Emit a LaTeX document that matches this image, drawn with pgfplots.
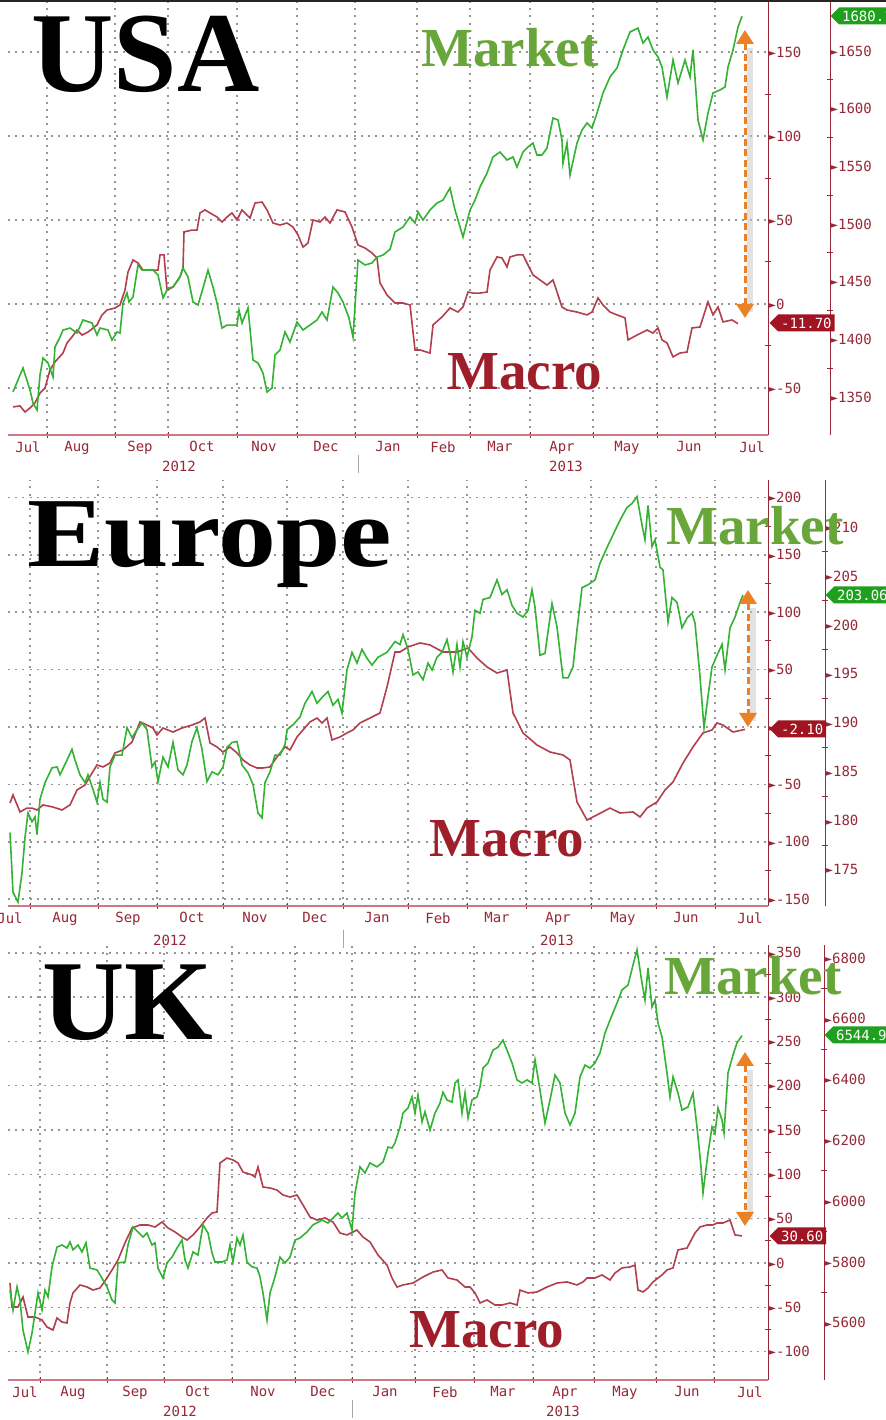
\documentclass[border=0pt]{standalone}
\usepackage{fontspec}
\setmainfont{Liberation Serif}
\newfontfamily\monof{DejaVu Sans Mono}
\newfontfamily\symf{DejaVu Sans}
\usepackage{pgfplots}
\pgfplotsset{compat=1.18}
\usetikzlibrary{shapes.symbols,arrows.meta}

\definecolor{macroc}{RGB}{178,62,78}
\definecolor{marketc}{RGB}{52,178,52}
\definecolor{markettxt}{RGB}{104,166,58}
\definecolor{macrotxt}{RGB}{158,30,42}
\definecolor{axred}{RGB}{150,40,55}
\definecolor{xaxc}{RGB}{205,120,130}
\definecolor{gridc}{RGB}{150,150,150}
\definecolor{tagred}{RGB}{160,20,35}
\definecolor{taggreen}{RGB}{30,160,30}
\definecolor{arrc}{RGB}{236,128,36}

\newcommand\tickf{\monof\fontsize{7}{8}\selectfont}
\newcommand\tri{{\symf\fontsize{5}{5}\selectfont\raisebox{0.4pt}{►}}}

\pgfplotsset{
 bbase/.style={scale only axis, anchor=south west,
   major tick length=0pt, minor tick length=3pt, tick align=center,
   tick style={draw=axred, line width=0.5pt},
   ticklabel style={font=\tickf, text=axred},
   yticklabel={\tri\pgfmathprintnumber{\tick}},
   yticklabel style={anchor=west, inner sep=0pt},
   minor y tick num=1,
   /pgf/number format/1000 sep={},
   /pgf/number format/assume math mode=true,
 },
 bmacro/.style={bbase, axis x line*=bottom, axis y line*=right,
   x axis line style={-, draw=xaxc, line width=0.7pt},
   y axis line style={-, draw=axred, line width=0.5pt},
   xmajorgrids=false, ymajorgrids=true, xminorgrids=true, yminorgrids=false,
   grid style={draw=gridc, dash pattern=on 1pt off 2.6pt, line width=0.8pt},
   major grid style={draw=gridc, dash pattern=on 1pt off 2.6pt, line width=0.8pt},
   minor grid style={draw=gridc, dash pattern=on 1pt off 2.6pt, line width=0.8pt},
   xticklabel style={anchor=north, inner sep=0pt, yshift=-3pt},
   xticklabels={Jul,Aug,Sep,Oct,Nov,Dec,Jan,Feb,Mar,Apr,May,Jun,Jul},
 },
 bmarket/.style={bbase, axis x line=none, axis y line*=right,
   y axis line style={-, draw=axred, line width=0.5pt}},
 macroline/.style={macroc, line width=0.8pt, no marks},
 marketline/.style={marketc, line width=0.8pt, no marks},
}

\begin{document}
\begin{tikzpicture}
\useasboundingbox (0,0) rectangle (443pt,710pt);
\fill[white] (0,0) rectangle (443pt,710pt);

% ================= USA =================
\begin{axis}[bmacro, at={(4pt,492.5pt)}, width=380pt, height=216.5pt,
  xmin=8, xmax=768, ymin=-78, ymax=179.8,
  xtick={28,77,140,202,264,326,388,443,500,562,627,689,752},
  minor xtick={47,115,168,237,297,355,417,470,530,593,657,715},
  ytick={-50,0,50,100,150}]
\addplot[macroline] coordinates {(13,-61.3)(20,-60.7)(25,-64.3)(30,-61.9)(35,-58.9)(40,-53.0)(45,-50.0)(50,-39.3)(55,-34.5)(63,-29.2)(67,-23.2)(72,-19.6)(77,-15.5)(82,-18.5)(88,-16.7)(97,-12.5)(102,-6.5)(107,-3.6)(115,-2.4)(120,-0.6)(125,8.3)(128,19.0)(133,26.2)(138,24.4)(143,20.2)(152,20.2)(158,20.2)(160,29.2)(164,29.2)(167,8.3)(173,10.1)(180,16.1)(183,21.4)(184,42.9)(192,44.0)(197,44.0)(200,54.2)(205,56.0)(210,54.2)(217,51.8)(222,48.8)(227,51.8)(232,54.2)(237,50.0)(242,56.0)(247,53.0)(250,51.2)(255,60.1)(262,60.7)(267,56.0)(273,48.2)(280,47.0)(287,48.2)(293,45.8)(298,41.1)(303,33.9)(308,36.3)(313,50.0)(320,48.8)(325,51.8)(330,48.2)(337,56.0)(345,54.8)(352,45.8)(358,35.1)(365,33.3)(372,30.4)(377,27.4)(380,12.5)(387,5.4)(395,0.6)(403,0.6)(410,-0.6)(415,-27.4)(420,-27.4)(430,-29.2)(433,-12.5)(442,-7.7)(450,-2.4)(458,-4.8)(463,-1.8)(468,7.1)(473,6.5)(480,6.5)(487,7.1)(490,20.2)(497,28.0)(502,27.4)(507,22.0)(510,28.0)(517,29.2)(523,29.2)(528,23.2)(533,17.3)(540,14.3)(547,11.3)(553,14.3)(562,-1.8)(567,-3.6)(577,-4.8)(587,-6.5)(592,-4.8)(598,3.6)(603,-0.6)(610,-4.8)(617,-6.5)(625,-8.3)(628,-21.4)(637,-18.5)(647,-15.5)(653,-17.3)(658,-14.3)(662,-21.4)(667,-23.2)(673,-31.5)(680,-29.2)(687,-28.6)(692,-14.3)(700,-13.7)(708,1.2)(713,-6.5)(718,-1.8)(723,-10.7)(732,-9.5)(738,-11.7)};
\end{axis}
\begin{axis}[bmarket, at={(4pt,492.5pt)}, width=411pt, height=216.5pt,
  xmin=8, xmax=830, ymin=1317.1, ymax=1692.5,
  ytick={1350,1400,1450,1500,1550,1600,1650}]
\addplot[marketline] coordinates {(13,1354.4)(23,1375.2)(30,1356.1)(33,1344.8)(37,1338.7)(40,1369.1)(43,1383.8)(48,1379.5)(53,1367.4)(55,1393.4)(60,1402.0)(63,1408.1)(70,1409.8)(77,1405.5)(83,1416.8)(92,1414.2)(97,1403.8)(100,1409.8)(108,1408.1)(112,1399.4)(117,1406.4)(120,1405.5)(123,1431.5)(127,1440.2)(129,1432.4)(133,1436.7)(138,1464.5)(142,1460.1)(147,1460.1)(153,1460.1)(158,1455.8)(163,1435.9)(168,1444.5)(173,1445.4)(180,1454.1)(183,1461.9)(188,1454.1)(193,1432.4)(198,1429.8)(203,1444.5)(208,1460.1)(213,1445.4)(217,1431.5)(222,1409.8)(227,1412.4)(237,1412.4)(239,1425.4)(242,1414.2)(248,1427.2)(253,1382.1)(258,1379.5)(263,1370.8)(267,1354.4)(272,1357.8)(275,1386.4)(280,1390.8)(285,1406.4)(290,1397.7)(297,1415.0)(303,1408.1)(310,1412.4)(317,1416.8)(322,1423.7)(327,1416.8)(333,1445.4)(338,1440.2)(343,1432.4)(349,1418.5)(353,1402.0)(358,1468.8)(365,1464.5)(372,1466.2)(377,1471.4)(383,1473.1)(390,1478)(395,1493.1)(403,1497.4)(410,1506.1)(415,1500.9)(418,1510.4)(423,1503.5)(430,1512.1)(437,1518.2)(443,1520.8)(450,1531.2)(455,1512.1)(458,1503.5)(463,1488.7)(470,1512.1)(475,1520.8)(480,1532.1)(487,1544.2)(493,1558.1)(500,1562.4)(507,1555.5)(513,1558.1)(517,1549.4)(523,1562.4)(528,1566.8)(533,1570.2)(537,1559.8)(542,1559.8)(547,1565.9)(553,1591.9)(558,1590.2)(562,1572.8)(563,1552.9)(567,1570.2)(570,1542.5)(577,1570.2)(582,1581.5)(587,1587.6)(592,1583.2)(597,1596.2)(603,1613.6)(610,1627.5)(617,1635.3)(623,1650.9)(630,1666.5)(638,1669.9)(643,1656.9)(648,1662.1)(653,1650.9)(658,1644.8)(662,1636.1)(667,1610.1)(673,1642.2)(678,1622.3)(685,1642.2)(690,1627.5)(693,1650.9)(698,1590.2)(703,1572.8)(708,1596.2)(713,1613.6)(720,1616.2)(725,1618.8)(728,1636.1)(733,1650.9)(738,1670.8)(742,1680.1)};
\end{axis}

% ================= Europe =================
\begin{axis}[bmacro, at={(4pt,257pt)}, width=380pt, height=213pt,
  xmin=8, xmax=768, ymin=-155.9, ymax=215.1,
  xtick={10,65,128,192,255,315,377,438,497,558,623,686,750},
  minor xtick={30,98,157,223,287,343,408,467,526,591,656,715},
  ytick={-150,-100,-50,0,50,100,150,200}]
\addplot[macroline] coordinates {(10,-66.2)(13,-59.2)(20,-74.0)(27,-70.6)(32,-70.6)(37,-72.3)(43,-67.9)(53,-69.7)(62,-72.3)(70,-67.9)(77,-54.9)(85,-50.5)(92,-40.1)(97,-33.1)(103,-34.8)(110,-31.4)(115,-22.6)(123,-20.0)(132,-13.1)(140,4.4)(147,1.7)(153,-0.9)(157,-7.0)(163,-0.9)(173,-4.4)(182,-0.9)(192,1.7)(200,4.4)(205,7.8)(210,-13.9)(217,-17.4)(223,-21.8)(230,-17.4)(237,-22.6)(243,-28.7)(250,-33.1)(257,-35.7)(263,-35.7)(270,-34.8)(277,-26.1)(285,-17.4)(290,-20.0)(297,-8.7)(303,-2.6)(310,4.4)(317,7.8)(322,3.5)(327,7.8)(332,-11.3)(340,-8.7)(347,-5.2)(353,-2.6)(360,3.5)(370,7.8)(380,12.2)(387,34.8)(395,65.3)(400,65.3)(408,69.7)(420,73.2)(430,71.4)(443,65.3)(457,65.3)(468,68.8)(477,60.1)(487,52.3)(497,47.0)(507,49.6)(513,12.2)(523,-5.2)(537,-15.7)(550,-21.8)(563,-24.4)(570,-28.7)(577,-65.3)(587,-81.0)(597,-76.6)(610,-70.6)(620,-74.9)(633,-74.0)(640,-78.4)(647,-70.6)(657,-65.3)(665,-54.9)(673,-47.9)(683,-31.4)(693,-17.4)(703,-5.2)(712,-2.6)(717,3.5)(723,1.7)(733,-4.4)(745,-2.1)};
\end{axis}
\begin{axis}[bmarket, at={(4pt,257pt)}, width=408.5pt, height=213pt,
  xmin=8, xmax=825, ymin=171.3, ymax=214.8,
  ytick={175,180,185,190,195,200,205,210}]
\addplot[marketline] coordinates {(10,178.8)(13,172.7)(18,171.7)(22,174.7)(25,178.3)(28,180.8)(32,179.9)(35,180.4)(37,178.6)(40,182.2)(45,183.9)(52,185.4)(57,185.5)(60,184.7)(67,186.2)(72,187.3)(75,186.2)(80,184.7)(85,183.9)(88,184.7)(93,183.2)(97,181.9)(100,183.9)(103,182.2)(107,181.9)(110,185.5)(115,186.7)(122,186.7)(127,189.5)(132,188.5)(137,189.3)(142,190.0)(147,189.3)(152,185.5)(155,186.0)(158,184.0)(163,186.5)(168,185.5)(173,188.0)(178,185.2)(183,184.7)(187,185.7)(192,188.1)(197,189.5)(202,187.3)(207,184.0)(212,185.0)(218,184.7)(223,185.5)(227,187.5)(232,188.0)(237,188.1)(242,185.7)(248,184.9)(253,183.7)(258,180.8)(262,180.3)(265,183.9)(270,185.0)(275,186.7)(280,186.7)(285,187.8)(287,189.3)(293,189.8)(300,190.6)(305,192.0)(312,193.2)(317,192.0)(323,192.7)(328,193.2)(333,191.8)(338,192.4)(342,191.0)(347,195.4)(352,197.2)(357,196.1)(362,197.5)(367,196.6)(372,195.9)(378,196.7)(387,197.2)(395,198.3)(400,198.0)(403,199.0)(408,197.5)(413,194.9)(418,195.2)(423,194.4)(428,196.1)(432,195.4)(437,196.7)(442,197.2)(447,198.5)(450,197.1)(453,195.2)(457,198.0)(460,195.7)(463,198.3)(467,196.7)(472,198.8)(475,201.5)(480,201.2)(483,202.6)(490,202.8)(497,204.6)(502,203.1)(507,203.6)(512,202.0)(517,201.2)(523,200.8)(528,201.5)(532,203.6)(535,201.8)(540,196.9)(545,197.1)(552,202.2)(557,199.8)(563,194.6)(568,194.6)(573,195.7)(577,199.5)(582,203.8)(588,204.1)(595,204.6)(600,206.3)(607,207.9)(613,209.2)(620,210.7)(627,212.0)(632,212.4)(637,213.1)(642,210.2)(645,208.7)(648,212.2)(652,208.0)(655,208.7)(660,205.9)(663,205.6)(668,200.3)(672,202.8)(677,202.3)(682,199.7)(687,200.7)(692,201.2)(695,200.2)(700,194.7)(704,189.5)(708,192.7)(712,195.7)(717,196.9)(722,198.0)(725,195.4)(730,199.7)(735,200.8)(740,202.3)(743,203.06)};
\end{axis}

% ================= UK =================
\begin{axis}[bmacro, at={(4pt,20pt)}, width=380pt, height=217.5pt,
  xmin=8, xmax=768, ymin=-132.0, ymax=358.7,
  xtick={25,73,135,198,263,323,385,445,503,565,625,687,750},
  minor xtick={40,107,164,232,295,352,415,474,533,594,656,714},
  ytick={-100,-50,0,50,100,150,200,250,300,350}]
\addplot[macroline] coordinates {(10,-22.6)(12,-49.6)(18,-49.6)(23,-38.4)(28,-60.9)(35,-60.9)(42,-64.3)(47,-72.2)(53,-75.6)(57,-62.0)(62,-66.6)(67,-67.7)(70,-45.1)(73,-33.8)(80,-24.8)(87,-27.1)(93,-30.5)(100,-28.2)(107,-16.9)(112,-7.9)(118,3.4)(125,22.6)(132,39.5)(140,42.9)(148,42.9)(155,40.6)(162,46.2)(168,39.5)(175,35.0)(182,29.3)(187,25.9)(193,31.6)(200,40.6)(207,50.8)(212,56.4)(217,57.5)(220,112.8)(227,118.4)(233,116.2)(238,112.8)(243,102.6)(252,99.3)(255,97.0)(258,108.3)(263,85.7)(270,84.6)(277,82.3)(283,76.7)(290,74.4)(297,76.7)(303,65.4)(310,51.9)(317,48.5)(325,50.8)(333,46.2)(340,33.8)(347,31.6)(357,37.2)(363,29.3)(370,23.7)(378,9.0)(387,-2.3)(392,-16.9)(397,-27.1)(403,-24.8)(413,-22.6)(423,-15.8)(433,-10.2)(442,-7.9)(448,-16.9)(457,-19.2)(465,-27.1)(470,-27.1)(475,-33.8)(480,-45.1)(487,-41.7)(495,-47.4)(502,-47.4)(510,-45.1)(517,-47.4)(520,-30.5)(528,-33.8)(537,-32.7)(547,-27.1)(557,-22.6)(567,-21.4)(577,-24.8)(583,-21.4)(587,-16.9)(595,-16.9)(602,-13.5)(610,-19.2)(615,-11.3)(622,-5.6)(630,-4.5)(635,-2.3)(638,-30.5)(643,-32.7)(648,-28.2)(653,-21.4)(662,-13.5)(667,-7.9)(673,-5.6)(678,14.7)(687,16.9)(695,33.8)(700,40.6)(707,42.9)(713,42.9)(717,45.1)(723,45.1)(730,48.5)(735,31.6)(742,30.6)};
\end{axis}
\begin{axis}[bmarket, at={(4pt,20pt)}, width=408pt, height=217.5pt,
  xmin=8, xmax=824, ymin=5411.8, ymax=6842.9,
  ytick={5600,5800,6000,6200,6400,6600,6800}, minor y tick num=1]
\addplot[marketline] coordinates {(10,5708)(13,5642)(17,5718)(20,5675)(23,5576)(28,5504)(32,5566)(35,5632)(38,5698)(42,5642)(45,5708)(48,5685)(52,5784)(57,5849)(62,5856)(67,5846)(70,5866)(73,5840)(78,5856)(82,5833)(86,5863)(90,5780)(97,5774)(103,5741)(107,5718)(112,5675)(115,5665)(118,5797)(125,5800)(128,5856)(133,5915)(138,5899)(143,5882)(147,5895)(152,5856)(155,5863)(158,5780)(163,5747)(167,5797)(172,5816)(177,5846)(182,5872)(185,5807)(188,5780)(193,5833)(198,5823)(203,5922)(208,5895)(212,5830)(215,5800)(222,5800)(227,5807)(230,5856)(233,5800)(237,5879)(240,5856)(243,5889)(247,5800)(252,5784)(257,5780)(260,5751)(263,5698)(267,5609)(270,5698)(275,5751)(280,5816)(285,5797)(290,5816)(295,5872)(300,5879)(307,5899)(313,5922)(322,5938)(328,5928)(333,5945)(338,5961)(342,5945)(347,5961)(352,5905)(355,6027)(360,6113)(365,6093)(370,6126)(377,6113)(383,6129)(388,6178)(392,6175)(395,6192)(400,6244)(403,6290)(408,6307)(412,6343)(415,6290)(418,6349)(422,6261)(425,6294)(430,6234)(435,6290)(440,6323)(443,6359)(447,6333)(452,6326)(455,6389)(458,6399)(462,6290)(465,6356)(468,6274)(472,6333)(477,6343)(480,6376)(483,6438)(488,6455)(493,6497)(498,6507)(503,6530)(507,6497)(512,6455)(517,6399)(522,6389)(527,6399)(532,6389)(535,6465)(540,6366)(545,6257)(550,6333)(555,6415)(560,6389)(565,6290)(570,6251)(575,6290)(580,6409)(585,6448)(590,6438)(595,6455)(600,6488)(605,6553)(610,6596)(617,6652)(622,6695)(628,6711)(633,6777)(637,6827)(642,6718)(645,6662)(648,6767)(652,6639)(655,6662)(658,6586)(662,6540)(667,6422)(670,6343)(673,6409)(678,6356)(682,6300)(688,6310)(693,6356)(697,6244)(701,6113)(703,6027)(708,6159)(712,6244)(715,6224)(718,6307)(722,6267)(724,6224)(728,6422)(733,6481)(737,6521)(742,6544.9)};
\end{axis}

% ================= annotations (pixel coordinates) =================
\begin{scope}[x=0.5pt,y=-0.5pt,shift={(0pt,710pt)}]
 \draw[black!85, line width=1pt] (0,1) -- (886,1);
 \begin{scope}[every node/.style={font=\tickf, text=axred, inner sep=0pt}]
  \node at (179,466) {2012}; \node at (566,466) {2013};
  \node at (170,940) {2012}; \node at (557,940) {2013};
  \node at (180,1411) {2012}; \node at (563,1411) {2013};
 \end{scope}
 \draw[gray!70, line width=0.5pt] (358,455) -- (358,473);
 \draw[gray!70, line width=0.5pt] (343,930) -- (343,948);
 \draw[gray!70, line width=0.5pt] (352,1400) -- (352,1418);
 \foreach \xa/\ya/\yb in {745/30/318, 748/590/727, 745/1052/1226}{
   \draw[gray!45, opacity=0.5, line width=3pt] (\xa+5,\ya+18) -- (\xa+5,\yb-6);
   \draw[arrc, line width=1.5pt, dash pattern=on 3.5pt off 1.8pt,
     {Triangle[width=8.5pt,length=7pt]}-{Triangle[width=8.5pt,length=7pt]}] (\xa,\ya) -- (\xa,\yb);
 }
 \begin{scope}[every node/.style={signal, signal to=west, text=white, font=\tickf,
     inner xsep=1.5pt, inner ysep=1pt, minimum height=8.5pt, anchor=west}]
  \node[fill=taggreen] at (830,16) {1680.1};
  \node[fill=tagred] at (769,323) {-11.70};
  \node[fill=taggreen] at (825,595) {203.06};
  \node[fill=tagred] at (769,729) {-2.10};
  \node[fill=taggreen] at (824,1035) {6544.9};
  \node[fill=tagred] at (769,1236) {30.60};
 \end{scope}
 \begin{scope}[every node/.style={anchor=base west, inner sep=0pt}]
  \node[font=\bfseries\fontsize{57}{57}\selectfont] at (31,92) {USA};
  \node[font=\bfseries\fontsize{49.5}{50}\selectfont] at (27,567) {\scalebox{1.17}[1]{Europe}};
  \node[font=\bfseries\fontsize{57}{57}\selectfont] at (42,1040) {UK};
  \node[font=\bfseries\fontsize{27.5}{28}\selectfont, text=markettxt] at (421,67) {Market};
  \node[font=\bfseries\fontsize{27.5}{28}\selectfont, text=macrotxt] at (447,390) {Macro};
  \node[font=\bfseries\fontsize{27.5}{28}\selectfont, text=markettxt] at (666,545) {Market};
  \node[font=\bfseries\fontsize{27.5}{28}\selectfont, text=macrotxt] at (429,857) {Macro};
  \node[font=\bfseries\fontsize{27.5}{28}\selectfont, text=markettxt] at (664,995) {Market};
  \node[font=\bfseries\fontsize{27.5}{28}\selectfont, text=macrotxt] at (409,1348) {Macro};
 \end{scope}
\end{scope}
\end{tikzpicture}
\end{document}
